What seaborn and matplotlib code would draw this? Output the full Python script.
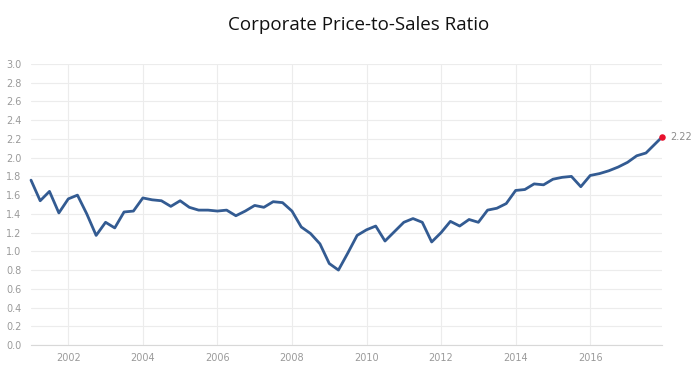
import matplotlib
matplotlib.use("Agg")
import matplotlib.pyplot as plt
import seaborn as sns
import pandas as pd
import numpy as np

title = "Corporate Price-to-Sales Ratio"
quarter_dates = list(pd.date_range("2001-01-01", "2017-07-01", freq="QS").strftime("%Y-%m-%d")) + ["2017-12-05"]
ratio = [1.76, 1.54, 1.64, 1.41, 1.56, 1.60, 1.40, 1.17, 1.31, 1.25,
         1.42, 1.43, 1.57, 1.55, 1.54, 1.48, 1.54, 1.47, 1.44, 1.44,
         1.43, 1.44, 1.38, 1.43, 1.49, 1.47, 1.53, 1.52, 1.43, 1.26,
         1.19, 1.08, 0.87, 0.80, 0.98, 1.17, 1.23, 1.27, 1.11, 1.21,
         1.31, 1.35, 1.31, 1.10, 1.20, 1.32, 1.27, 1.34, 1.31, 1.44,
         1.46, 1.51, 1.65, 1.66, 1.72, 1.71, 1.77, 1.79, 1.80, 1.69,
         1.81, 1.83, 1.86, 1.90, 1.95, 2.02, 2.05, 2.22]
x_ticks = [2002, 2004, 2006, 2008, 2010, 2012, 2014, 2016]
y_ticks = [round(0.2 * k, 1) for k in range(16)]

dt = pd.to_datetime(quarter_dates)
year_frac = dt.year + (dt.dayofyear - 1) / 365.25
df = pd.DataFrame({"x": year_frac, "ratio": ratio})

sns.set_theme(style="white")
plt.rcParams["font.family"] = ["DejaVu Sans"]

fig = plt.figure(figsize=(6.92, 3.81), dpi=100)
ax = fig.add_axes([31 / 692, 36 / 381, (662 - 31) / 692, (345 - 64) / 381])

sns.lineplot(data=df, x="x", y="ratio", ax=ax, color="#335b92", linewidth=2.0,
             clip_on=False, zorder=3)
last = df.iloc[-1]
ax.scatter([last["x"]], [last["ratio"]], s=22, color="#e8112d", zorder=4, clip_on=False, linewidths=0)
ax.annotate(f"{last['ratio']:.2f}", (last["x"], last["ratio"]), xytext=(6, 0),
            textcoords="offset points", va="center", ha="left", fontsize=7, color="#8c8c8c")

ax.set_xlim(df["x"].iloc[0], df["x"].iloc[-1])
ax.set_ylim(0, 3.0)
ax.set_xticks(x_ticks)
ax.set_xticklabels([str(t) for t in x_ticks])
ax.set_yticks(y_ticks)
ax.set_yticklabels([f"{t:.1f}" for t in y_ticks])
ax.grid(True, color="#ececec", linewidth=0.8)
ax.set_axisbelow(True)
for s in ["top", "right", "left"]:
    ax.spines[s].set_visible(False)
ax.spines["bottom"].set_color("#d8d8d8")
ax.spines["bottom"].set_linewidth(0.8)
ax.tick_params(axis="both", length=0, labelsize=7, labelcolor="#9a9a9a")
ax.tick_params(axis="x", pad=6)
ax.tick_params(axis="y", pad=7)
ax.set_xlabel("")
ax.set_ylabel("")

fig.text(359 / 692, 1 - 25 / 381, title, ha="center", va="center", fontsize=13.5,
         color="#111111", family=["Open Sans", "DejaVu Sans"])

fig.savefig("out.png", dpi=100)
